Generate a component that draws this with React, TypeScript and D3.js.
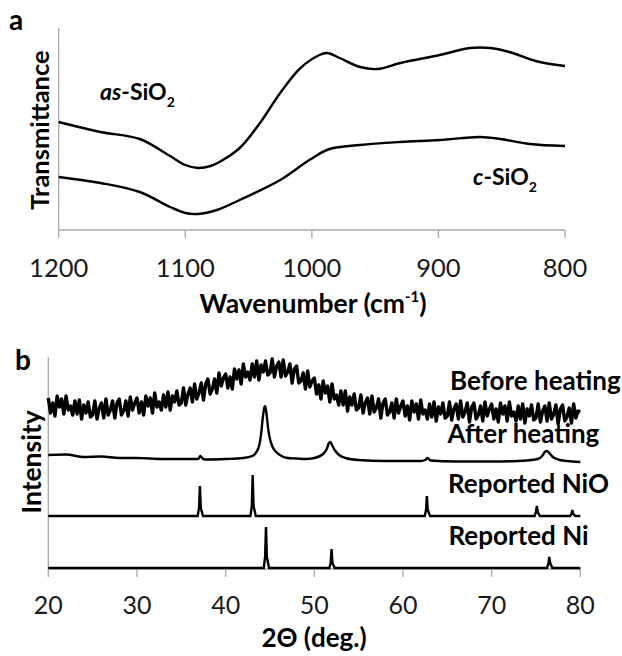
import React from "react";
import * as d3 from "d3";

// ---- panel a: FTIR ----
const ftirTicks = [1200, 1100, 1000, 900, 800];
const asWave = [1200, 1167, 1136, 1112, 1100, 1090, 1080, 1073, 1057, 1041, 1025, 1009, 994, 988, 978, 962, 948, 930, 899, 875, 859, 844, 820, 800];
const asTrans = [108, 98, 91, 74, 65, 62, 64, 68, 82, 107, 137, 162, 175, 177, 172, 163, 161, 167, 175, 182, 182, 178, 168, 164];
const cWave = [1200, 1167, 1136, 1112, 1100, 1090, 1075, 1057, 1025, 1002, 986, 962, 930, 899, 867, 851, 828, 800];
const cTrans = [53, 47, 38, 23, 17, 16, 20, 30, 50, 70, 81, 85, 88, 90, 93, 91, 86, 84];

// ---- panel b: XRD ----
const xrdTicks = [20, 30, 40, 50, 60, 70, 80];
const beforeStart = 20;
const beforeStep = 0.25;
const beforeIntensity = [
  171, 156, 166, 153, 173, 162, 170, 155, 173, 159, 163, 154, 168, 155, 169, 150, 164, 156, 167, 152,
  154, 168, 150, 161, 166, 151, 170, 154, 159, 168, 151, 166, 170, 154, 158, 168, 153, 172, 159, 166,
  171, 156, 167, 154, 173, 163, 171, 156, 176, 162, 167, 159, 174, 162, 177, 159, 173, 167, 178, 164,
  166, 181, 164, 175, 181, 167, 185, 170, 176, 186, 169, 185, 190, 175, 180, 190, 176, 196, 183, 191,
  195, 181, 192, 180, 200, 190, 199, 185, 205, 192, 197, 189, 205, 192, 208, 189, 204, 197, 208, 194,
  196, 210, 192, 203, 207, 192, 209, 193, 197, 205, 186, 200, 203, 186, 188, 196, 180, 198, 182, 188,
  191, 175, 184, 170, 188, 176, 183, 167, 185, 170, 174, 164, 178, 164, 178, 158, 172, 164, 175, 159,
  161, 174, 156, 166, 171, 155, 173, 157, 161, 170, 151, 166, 170, 154, 157, 166, 151, 170, 156, 163,
  168, 153, 163, 149, 168, 157, 165, 150, 169, 155, 159, 150, 165, 152, 167, 148, 162, 155, 166, 151,
  153, 167, 149, 160, 165, 150, 168, 152, 157, 166, 147, 162, 166, 150, 154, 163, 148, 167, 153, 160,
  165, 150, 160, 147, 166, 155, 163, 148, 167, 153, 157, 148, 163, 150, 165, 146, 160, 153, 164, 149,
  151, 165, 147, 158, 163, 148, 166, 150, 155, 164, 145, 160, 164, 148, 152, 161, 146, 165, 151, 158,
  157,
];
const afterAngle = [20, 22, 24, 26, 28, 30, 33, 36, 36.9, 37.15, 37.4, 37.7, 40, 42, 43, 43.4, 43.6, 43.8, 44.0, 44.2, 44.35, 44.45, 44.6, 44.8, 45.0, 45.3, 45.7, 46.3, 47, 48, 49, 50, 51, 51.4, 51.65, 51.8, 52.0, 52.3, 52.8, 53.5, 55, 58, 62, 62.5, 62.8, 63.1, 66, 70, 73, 75.2, 75.7, 76.0, 76.25, 76.5, 76.9, 77.5, 78.5, 80];
const afterIntensity = [114, 114.5, 112, 112.5, 111, 111, 110, 110, 110, 113, 110.5, 109.5, 110, 111, 113, 116, 119, 124, 135, 152, 161, 163, 156, 140, 130, 122, 117, 113, 111, 110.5, 110, 111, 115, 120, 126, 127, 124, 119, 114, 111, 109, 108, 108, 109, 111, 108.5, 107.5, 107.5, 108, 110, 113, 117, 118, 116, 112, 109.5, 108, 107];
const nioAngle = [20, 36.85, 37.0, 37.1, 37.2, 37.45, 42.8, 42.95, 43.05, 43.15, 43.4, 62.45, 62.6, 62.7, 62.8, 63.05, 74.85, 75.0, 75.1, 75.2, 75.45, 78.85, 79.0, 79.1, 79.2, 79.45, 80];
const nioIntensity = [53, 53, 61, 83, 61, 53, 53, 63, 94, 63, 53, 53, 59, 73, 59, 53, 53, 57, 63, 57, 53, 53, 55, 59, 55, 53, 53];
const niAngle = [20, 44.3, 44.45, 44.55, 44.65, 44.9, 51.7, 51.85, 51.95, 52.05, 52.3, 76.25, 76.4, 76.5, 76.6, 76.85, 80];
const niIntensity = [1, 1, 12, 42, 12, 1, 1, 6, 20, 6, 1, 1, 5, 12, 6, 1, 1];
const traceLabels = ["Before heating", "After heating", "Reported NiO", "Reported Ni"];

const axisGray = "#a8a8a8";
const font = "Lato, 'Open Sans', sans-serif";

export default function App() {
  // panel a scales
  const xA = d3.scaleLinear().domain([1200, 800]).range([58.7, 565]);
  const yA = d3.scaleLinear().domain([0, 202]).range([230, 28]);
  const lineA = d3
    .line<[number, number]>()
    .x((d) => xA(d[0]))
    .y((d) => yA(d[1]))
    .curve(d3.curveCatmullRom.alpha(0.5));
  const asPath = lineA(asWave.map((w, i) => [w, asTrans[i]]));
  const cPath = lineA(cWave.map((w, i) => [w, cTrans[i]]));

  // panel b scales
  const xB = d3.scaleLinear().domain([20, 80]).range([48.3, 580.3]);
  const yB = d3.scaleLinear().domain([0, 212]).range([569, 357]);
  const lineB = d3
    .line<[number, number]>()
    .x((d) => xB(d[0]))
    .y((d) => yB(d[1]));
  const beforePath = lineB(beforeIntensity.map((v, i) => [beforeStart + i * beforeStep, v]));
  const afterPath = lineB.curve(d3.curveMonotoneX)(afterAngle.map((a, i) => [a, afterIntensity[i]]));
  const nioPath = lineB.curve(d3.curveLinear)(nioAngle.map((a, i) => [a, nioIntensity[i]]));
  const niPath = lineB(niAngle.map((a, i) => [a, niIntensity[i]]));

  const labelPos = [
    { x: 450, y: 390 },
    { x: 447.5, y: 443.3 },
    { x: 448, y: 492.7 },
    { x: 448.5, y: 545 },
  ];

  return (
    <svg
      width={622}
      height={656}
      style={{ position: "absolute", left: 0, top: 0, background: "#fff" }}
      fontFamily={font}
    >
      {/* ===== panel a ===== */}
      <text x={9} y={30} fontSize={28} fontWeight="bold">a</text>
      <line x1={xA(1200)} x2={xA(1200)} y1={28} y2={230} stroke={axisGray} strokeWidth={1.3} />
      <line x1={xA(1200)} x2={xA(800)} y1={230} y2={230} stroke={axisGray} strokeWidth={1.3} />
      {ftirTicks.map((t) => (
        <g key={t}>
          <line x1={xA(t)} x2={xA(t)} y1={230} y2={238} stroke={axisGray} strokeWidth={1.3} />
          <text x={xA(t)} y={276.5} textAnchor="middle" fontSize={25.5} fill="#1a1a1a">{t}</text>
        </g>
      ))}
      <path d={asPath!} fill="none" stroke="#000" strokeWidth={2.4} />
      <path d={cPath!} fill="none" stroke="#000" strokeWidth={2.4} />
      <text x={100} y={100} fontSize={23} fontWeight="bold">
        <tspan fontStyle="italic">as</tspan>-SiO
        <tspan fontSize={14} dy={7}>2</tspan>
      </text>
      <text x={473} y={185} fontSize={23} fontWeight="bold">
        <tspan fontStyle="italic">c</tspan>-SiO
        <tspan fontSize={14} dy={7}>2</tspan>
      </text>
      <text transform="translate(49,130) rotate(-90)" textAnchor="middle" fontSize={25.5} fontWeight="bold">
        Transmittance
      </text>
      <text x={313} y={313} textAnchor="middle" fontSize={26.5} fontWeight="bold">
        Wavenumber (cm<tspan fontSize={15} dy={-11}>-1</tspan><tspan dy={11}>)</tspan>
      </text>

      {/* ===== panel b ===== */}
      <text x={15} y={370} fontSize={28} fontWeight="bold">b</text>
      <line x1={xB(20)} x2={xB(20)} y1={357} y2={569} stroke={axisGray} strokeWidth={1.3} />
      <line x1={xB(20)} x2={xB(80)} y1={569} y2={569} stroke={axisGray} strokeWidth={1.3} />
      {xrdTicks.map((t) => (
        <g key={t}>
          <line x1={xB(t)} x2={xB(t)} y1={569} y2={577} stroke={axisGray} strokeWidth={1.3} />
          <text x={xB(t)} y={614} textAnchor="middle" fontSize={25} fill="#1a1a1a">{t}</text>
        </g>
      ))}
      <path d={beforePath!} fill="none" stroke="#000" strokeWidth={3.4} strokeLinejoin="round" />
      <path d={afterPath!} fill="none" stroke="#000" strokeWidth={2.4} />
      <path d={nioPath!} fill="none" stroke="#000" strokeWidth={2.4} />
      <path d={niPath!} fill="none" stroke="#000" strokeWidth={2.4} />
      {traceLabels.map((l, i) => (
        <text key={l} x={labelPos[i].x} y={labelPos[i].y} fontSize={26} fontWeight="bold">{l}</text>
      ))}
      <text transform="translate(41,462) rotate(-90)" textAnchor="middle" fontSize={26.5} fontWeight="bold">
        Intensity
      </text>
      <text x={314} y={647} textAnchor="middle" fontSize={26} fontWeight="bold">
        2Θ (deg.)
      </text>
    </svg>
  );
}
